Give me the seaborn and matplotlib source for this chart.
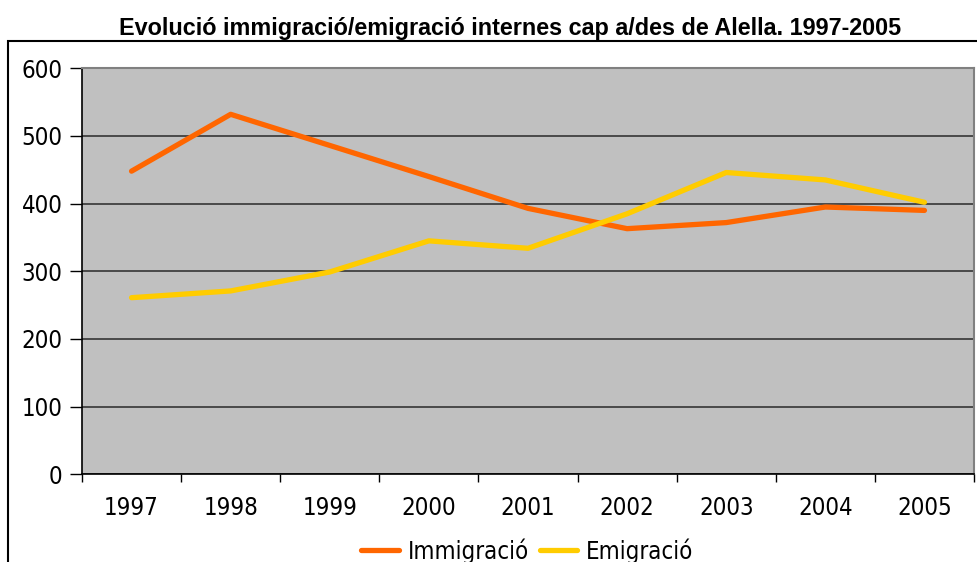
import matplotlib
matplotlib.use("Agg")
import matplotlib.pyplot as plt
import matplotlib.patches as mpatches
from matplotlib import font_manager
import seaborn as sns
import pandas as pd

years = ["1997", "1998", "1999", "2000", "2001", "2002", "2003", "2004", "2005"]
immigracio = [448, 532, 486, 440, 393, 363, 372, 395, 390]
emigracio = [261, 271, 299, 345, 334, 385, 446, 435, 402]
yticks = [0, 100, 200, 300, 400, 500, 600]
title = "Evolució immigració/emigració internes cap a/des de Alella. 1997-2005"

sns.set_theme(style="white")
plt.rcParams["font.family"] = ["DejaVu Sans"]
plt.rcParams["font.stretch"] = "condensed"
plt.rcParams["text.color"] = "black"

tick_font = font_manager.FontProperties(family="DejaVu Sans", stretch="condensed", size=17.2)

df = pd.DataFrame({
    "idx": list(range(len(years))) * 2,
    "value": immigracio + emigracio,
    "serie": ["Immigració"] * len(years) + ["Emigració"] * len(years),
})

fig = plt.figure(figsize=(9.77, 5.62), dpi=100)
ax = fig.add_axes([82 / 977, 1 - 474.3 / 562, (974 - 82) / 977, (474.3 - 68.3) / 562])
ax.set_facecolor("#C0C0C0")

sns.lineplot(data=df, x="idx", y="value", hue="serie",
             palette={"Immigració": "#FF6600", "Emigració": "#FFCC00"},
             linewidth=3.8, ax=ax, legend=False, zorder=3)

ax.set_xlim(-0.5, len(years) - 0.5)
ax.set_ylim(0, 600)
ax.set_yticks(yticks)
ax.set_yticklabels([str(v) for v in yticks], fontproperties=tick_font, color="black")
ax.set_xticks(range(len(years)))
ax.set_xticklabels(years, fontproperties=tick_font, color="black")
ax.set_xticks([i - 0.5 for i in range(len(years) + 1)], minor=True)
ax.tick_params(axis="x", which="major", length=0, pad=15.5)
ax.tick_params(axis="x", which="minor", length=6, width=1, color="black", direction="out", bottom=True)
ax.tick_params(axis="y", which="major", length=9, width=1, color="black", direction="out", left=True, pad=5)
ax.set_xlabel("")
ax.set_ylabel("")
ax.yaxis.grid(True, color="#404040", linewidth=1.3)
ax.xaxis.grid(False)
ax.set_axisbelow(True)
for s in ["left", "bottom"]:
    ax.spines[s].set_color("black")
    ax.spines[s].set_linewidth(1.2)
for s in ["top", "right"]:
    ax.spines[s].set_color("#808080")
    ax.spines[s].set_linewidth(1.5)

fig.text(0.5225, 1 - 34.5 / 562, title, ha="center", va="baseline",
         fontsize=16.8, fontweight="bold", fontstretch="normal",
         family=["Liberation Sans", "DejaVu Sans"], color="black")

frame = mpatches.Rectangle((7.5 / 977, -0.2), 1.2, 1.2 + (1 - 40.5 / 562) - 1.0,
                           transform=fig.transFigure, fill=False,
                           edgecolor="black", linewidth=1.5, clip_on=False)
fig.add_artist(frame)

handles = [plt.Line2D([], [], color="#FF6600", linewidth=3.8),
           plt.Line2D([], [], color="#FFCC00", linewidth=3.8)]
fig.legend(handles, ["Immigració", "Emigració"], loc="center",
           bbox_to_anchor=(527.5 / 977, 1 - 551 / 562), ncol=2, frameon=False,
           prop=tick_font, handlelength=1.57, handletextpad=0.37, columnspacing=0.45)

fig.savefig("out.png", dpi=100)
